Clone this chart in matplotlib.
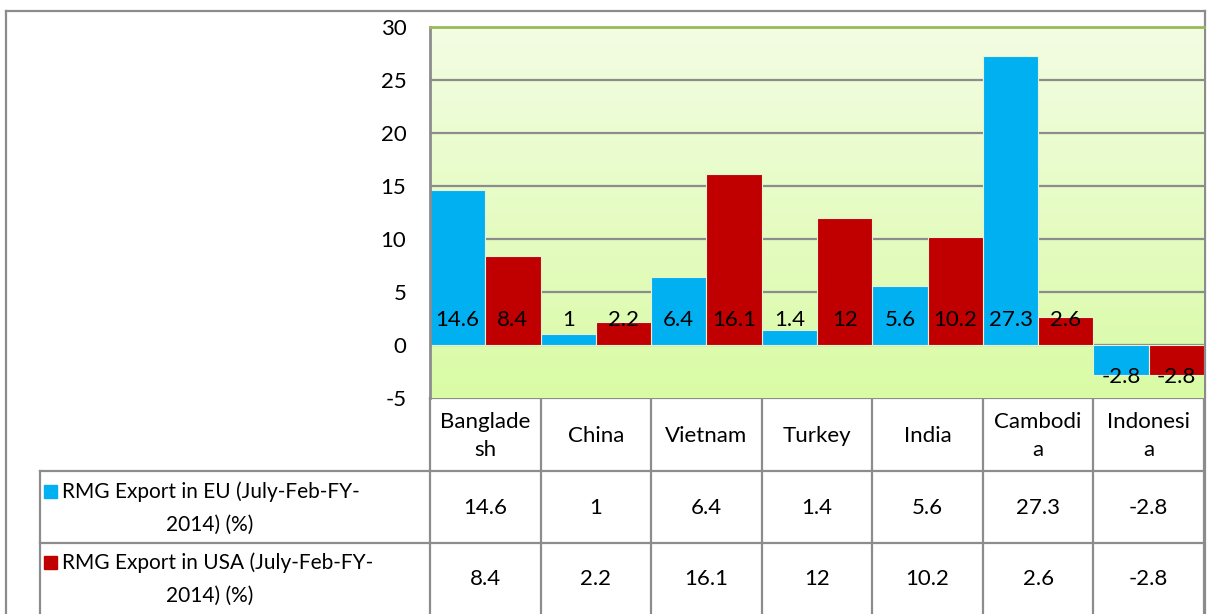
import numpy as np
import matplotlib.pyplot as plt
from matplotlib.patches import Rectangle
from matplotlib.lines import Line2D
from matplotlib.transforms import blended_transform_factory

countries = ["Banglade\nsh", "China", "Vietnam", "Turkey", "India", "Cambodi\na", "Indonesi\na"]
eu = [14.6, 1, 6.4, 1.4, 5.6, 27.3, -2.8]
usa = [8.4, 2.2, 16.1, 12, 10.2, 2.6, -2.8]
series_names = [("RMG Export in EU (July-Feb-FY-", "2014) (%)"),
                ("RMG Export in USA (July-Feb-FY-", "2014) (%)")]
yticks = [-5, 0, 5, 10, 15, 20, 25, 30]

blue = "#00B0F0"
red = "#C00000"
grid_c = "#8C8C8C"
fs = 16
plt.rcParams['font.family'] = ['Lato', 'DejaVu Sans']

W, H = 1207, 614
fig = plt.figure(figsize=(W / 100, H / 100), dpi=100)

# overlay in pixel coords for frame/table
ov = fig.add_axes([0, 0, 1, 1])
ov.set_xlim(0, W)
ov.set_ylim(H, 0)
ov.axis("off")

L, R, T, B = 430, 1204, 27, 398
ax = fig.add_axes([L / W, 1 - B / H, (R - L) / W, (B - T) / H])
ax.set_xlim(-0.5, 6.5)
ax.set_ylim(-5, 30)

# gradient background
grad = np.linspace(0, 1, 256).reshape(-1, 1)
c_top = np.array([0xF3, 0xFD, 0xE3]) / 255
c_bot = np.array([0xD9, 0xFB, 0xA5]) / 255
img = c_top[None, None, :] * (1 - grad[:, :, None]) + c_bot[None, None, :] * grad[:, :, None]
ax.imshow(img, extent=[-0.5, 6.5, -5, 30], aspect="auto", origin="upper", zorder=0)

for y in yticks[1:]:
    ax.axhline(y, color=grid_c, lw=1.6, zorder=1)

x = np.arange(len(countries))
ax.bar(x - 0.25, eu, width=0.5, color=blue, edgecolor="#E6F4D2", linewidth=0.8, zorder=2)
ax.bar(x + 0.25, usa, width=0.5, color=red, edgecolor="#E6F4D2", linewidth=0.8, zorder=2)

for xi, v in zip(x - 0.25, eu):
    ax.text(xi, 2.4 if v > 0 else -3.0, str(v), ha="center", va="center", fontsize=fs, zorder=3)
for xi, v in zip(x + 0.25, usa):
    ax.text(xi, 2.4 if v > 0 else -3.0, str(v), ha="center", va="center", fontsize=fs, zorder=3)

ax.set_xticks([])
ax.set_yticks(yticks)
ax.set_yticklabels([str(t) for t in yticks], fontsize=fs)
ax.tick_params(axis="y", length=0, pad=17)
for s in ["right", "bottom"]:
    ax.spines[s].set_visible(False)
ax.spines["top"].set_color("#9BBB59")
ax.spines["top"].set_linewidth(2)
ax.spines["left"].set_color(grid_c)
ax.spines["left"].set_linewidth(2)

# outer frame
lc = "#8C8C8C"
ov.add_line(Line2D([6, 1205], [11, 11], color=lc, lw=1.6))
ov.add_line(Line2D([6, 6], [11, H], color=lc, lw=1.6))
ov.add_line(Line2D([1205, 1205], [11, H], color=lc, lw=1.6))

# data table
tr = blended_transform_factory(ax.transData, ov.transData)
edges = np.arange(len(countries) + 1) - 0.5
for e in edges:
    ov.add_line(Line2D([e, e], [B, H], color=lc, lw=1.6, transform=tr))
row_y = [471, 543]
for ry in row_y:
    ov.add_line(Line2D([40, 1204], [ry, ry], color=lc, lw=1.6))
ov.add_line(Line2D([40, 40], [471, H], color=lc, lw=1.6))
ov.add_line(Line2D([430, 1204], [B, B], color=lc, lw=1.6))

for xi, c in zip(x, countries):
    ov.text(xi, 436, c, ha="center", va="center", fontsize=fs, linespacing=1.5, transform=tr)

row_centers = [508, 579]
for rc, vals, name, col in zip(row_centers, [eu, usa], series_names, [blue, red]):
    for xi, v in zip(x, vals):
        ov.text(xi, rc, str(v), ha="center", va="center", fontsize=fs, transform=tr)
    ov.text(62, rc - 16, name[0], ha="left", va="center", fontsize=15)
    ov.text(210, rc + 17, name[1], ha="center", va="center", fontsize=15)
    ov.add_patch(Rectangle((44, rc - 23), 13, 13, color=col))

fig.savefig("out.png", dpi=100)
